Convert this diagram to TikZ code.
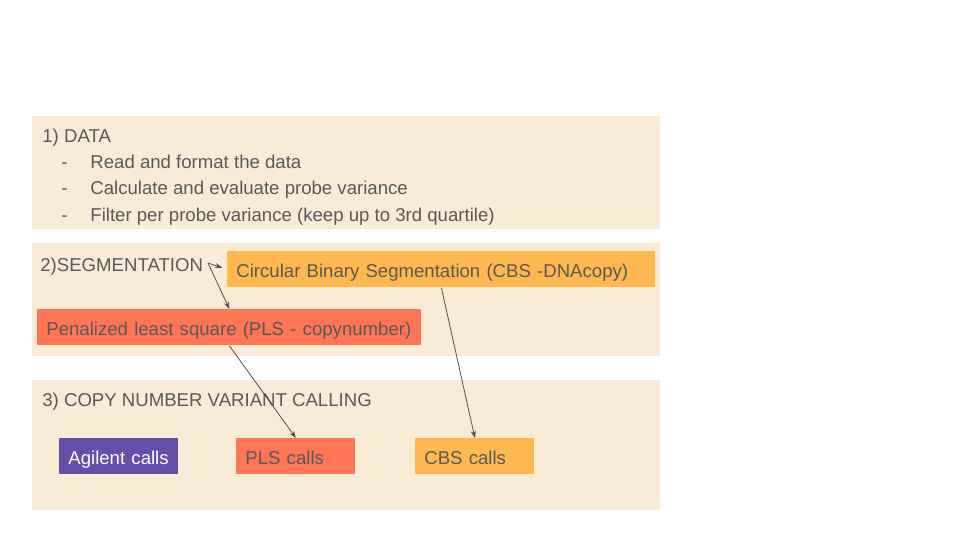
\documentclass[tikz,border=0pt]{standalone}
\usepackage{fontspec}
\setmainfont{Liberation Sans}
\usepackage{xcolor}
\usetikzlibrary{arrows.meta,positioning,calc}

\definecolor{panelbg}{HTML}{FAEBD7}
\definecolor{cbsorange}{HTML}{FFB84F}
\definecolor{plsred}{HTML}{FF7555}
\definecolor{agilentpurple}{HTML}{674EA7}
\definecolor{textgray}{HTML}{595959}

\begin{document}
\begin{tikzpicture}[
    x=0.5pt, y=-0.5pt,
    font=\fontsize{9.3}{11}\selectfont,
    text=textgray,
    panel/.style={rectangle, fill=panelbg, anchor=north west, inner sep=0pt, minimum width=314pt},
    label/.style={anchor=base west, inner sep=0pt},
    box/.style={rectangle, anchor=north west, inner xsep=4.5pt, inner ysep=0pt, minimum height=18pt, align=left, text height=8.5pt, text depth=0.5pt},
    calls/.style={box, text width=50.5pt},
    arrow/.style={-{Stealth[length=3.6pt, width=2.6pt]}, draw=textgray!90!black, line width=0.4pt}
]
    \useasboundingbox (0,0) rectangle (960,540);

    % Panels
    \node[panel, minimum height=56.5pt] (data) at (32,116) {};
    \node[panel, minimum height=56.5pt] (segm) at (32,243) {};
    \node[panel, minimum height=65pt] (calling) at (32,380) {};

    % 1) Data
    \node[label] (datatitle) at (42,143) {1) DATA};
    \node[label] (dash1) at (61,169) {-};
    \node[label] (read) at (90,169) {Read and format the data};
    \node[label] (dash2) at (61,195) {-};
    \node[label] (calc) at (90,195) {Calculate and evaluate probe variance};
    \node[label] (dash3) at (61,221) {-};
    \node[label] (filter) at (90,221) {Filter per probe variance (keep up to 3rd quartile)};

    % 2) Segmentation
    \node[label] (segtitle) at (40,271) {2)SEGMENTATION};
    \node[box, fill=cbsorange, text width=205pt] (cbs) at (227,251) {Circular Binary Segmentation (CBS -DNAcopy)};
    \node[box, fill=plsred, text width=183pt] (pls) at (37,309) {Penalized least square (PLS - copynumber)};
    \coordinate (segend) at (208,263);

    % 3) Copy number variant calling
    \node[label] (calltitle) at (42,407) {3) COPY NUMBER VARIANT CALLING};
    \node[calls, fill=agilentpurple, text=white] (agilent) at (59,438) {Agilent calls};
    \node[calls, fill=plsred] (plscalls) at (236,438) {PLS calls};
    \node[calls, fill=cbsorange] (cbscalls) at (415,438) {CBS calls};

    % Arrows
    \draw[arrow, shorten >=2.5pt] (segend) -- (cbs.west);
    \draw[arrow] (segend) -- (pls.north);
    \draw[arrow] (pls.south) -- (plscalls.north);
    \draw[arrow] (cbs.south) -- (cbscalls.north);
\end{tikzpicture}
\end{document}
